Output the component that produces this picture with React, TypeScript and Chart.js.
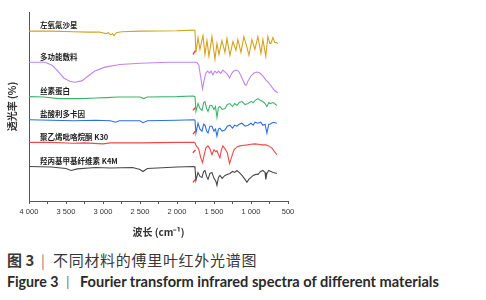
import React, { useEffect, useRef } from "react";
import { Chart, registerables } from "chart.js";

Chart.register(...registerables);

// ---------- data (offset transmittance, arbitrary units) ----------
const SERIES_NAMES = [
  "左氧氟沙星",
  "多功能敷料",
  "丝素蛋白",
  "盐酸利多卡因",
  "聚乙烯吡咯烷酮 K30",
  "羟丙基甲基纤维素 K4M",
];
const SERIES_COLORS = ["#D6A21E", "#C583EE", "#3DB46C", "#2B6FE6", "#F24848", "#474747"];

const X_MIN = 500;
const X_MAX = 4000;
const X_STEP = 250;
const LABEL_WN = 3850;

const LEVO_WN = [4000, 3700, 3400, 3200, 3050, 2960, 2930, 2900, 2870, 2850, 2820, 2750, 2500, 2000, 1770, 1757, 1744, 1716, 1690, 1649, 1622, 1595, 1568, 1528, 1487, 1460, 1433, 1393, 1352, 1325, 1285, 1244, 1204, 1177, 1136, 1096, 1055, 1028, 988, 947, 907, 880, 866, 839, 800, 772, 745, 731, 704, 680, 664, 636];
const LEVO_T = [86.3, 86.3, 86.0, 85.8, 85.8, 85.0, 85.5, 84.5, 85.0, 84.0, 85.5, 86.0, 86.3, 86.5, 86.8, 86.5, 75.5, 83.0, 77.0, 84.0, 74.5, 81.5, 73.5, 83.5, 72.0, 80.0, 74.5, 81.5, 75.5, 82.5, 74.0, 81.0, 76.5, 82.0, 75.5, 83.5, 78.0, 74.0, 82.0, 77.0, 83.5, 78.0, 75.0, 82.0, 73.5, 83.5, 80.0, 80.0, 83.0, 80.5, 80.5, 80.0];

const DRESS_WN = [4000, 3780, 3690, 3610, 3530, 3450, 3380, 3285, 3200, 3110, 2975, 2770, 2500, 2095, 1760, 1730, 1705, 1680, 1655, 1635, 1610, 1585, 1560, 1540, 1515, 1490, 1460, 1440, 1410, 1380, 1350, 1320, 1290, 1265, 1235, 1200, 1170, 1140, 1110, 1080, 1060, 1040, 1000, 960, 920, 880, 840, 800, 760, 720, 680, 640];
const DRESS_T = [70.5, 70.5, 69.0, 66.0, 62.5, 60.8, 60.3, 61.0, 63.5, 66.0, 68.0, 69.3, 70.0, 70.5, 70.5, 70.3, 69.0, 63.0, 57.0, 61.0, 65.0, 66.0, 65.0, 66.0, 64.0, 66.0, 65.0, 66.0, 64.8, 66.5, 65.5, 64.5, 62.5, 64.5, 66.0, 66.5, 66.0, 64.0, 61.5, 59.0, 59.0, 61.0, 63.5, 65.0, 65.5, 65.0, 63.5, 61.5, 60.0, 58.0, 56.0, 55.0];

const SILK_WN = [4000, 3800, 3600, 3300, 3100, 2950, 2800, 2500, 2450, 2400, 2000, 1780, 1757, 1744, 1716, 1690, 1662, 1640, 1622, 1600, 1581, 1555, 1528, 1500, 1480, 1460, 1440, 1420, 1390, 1352, 1320, 1285, 1250, 1220, 1190, 1160, 1122, 1080, 1041, 1000, 970, 947, 906, 870, 839, 810, 785, 760, 744, 700, 650];
const SILK_T = [53.0, 52.8, 52.0, 52.0, 52.3, 52.5, 52.8, 52.8, 52.0, 52.8, 53.0, 53.3, 53.0, 45.5, 49.5, 47.0, 46.0, 50.0, 50.5, 47.0, 45.5, 48.5, 48.5, 46.5, 48.0, 42.5, 47.5, 48.0, 46.5, 47.0, 49.0, 49.5, 48.0, 49.5, 48.5, 50.0, 50.5, 49.0, 49.5, 50.5, 50.0, 51.0, 52.0, 51.0, 50.5, 49.5, 48.0, 50.0, 49.5, 50.0, 48.5];

const LIDO_WN = [4000, 3700, 3400, 3100, 2900, 2830, 2780, 2500, 2460, 2400, 2000, 1770, 1757, 1744, 1716, 1690, 1662, 1640, 1622, 1600, 1581, 1555, 1528, 1500, 1480, 1460, 1440, 1420, 1390, 1352, 1320, 1285, 1250, 1220, 1190, 1160, 1122, 1080, 1041, 1000, 970, 947, 906, 870, 839, 810, 785, 760, 744, 700, 650];
const LIDO_T = [41.3, 41.0, 40.8, 41.0, 40.8, 40.0, 40.8, 40.8, 39.8, 40.8, 41.0, 41.3, 41.0, 34.5, 39.5, 36.5, 35.5, 39.0, 38.5, 35.5, 34.5, 38.0, 38.0, 35.5, 36.5, 33.0, 36.5, 37.0, 35.5, 36.0, 38.0, 38.5, 37.0, 38.5, 38.0, 39.0, 39.5, 38.0, 38.5, 39.5, 38.5, 40.0, 39.5, 40.0, 38.5, 39.0, 34.5, 39.0, 39.0, 40.0, 39.5];

const PVP_WN = [4000, 3700, 3400, 3250, 3000, 2900, 2500, 2000, 1770, 1757, 1740, 1716, 1700, 1680, 1655, 1635, 1610, 1581, 1555, 1528, 1500, 1475, 1460, 1440, 1420, 1400, 1380, 1350, 1320, 1290, 1265, 1230, 1190, 1150, 1100, 1050, 1000, 950, 900, 850, 800, 760, 720, 690, 650];
const PVP_T = [29.8, 29.8, 29.3, 29.5, 29.0, 29.5, 29.5, 29.8, 29.8, 29.5, 28.0, 27.0, 25.5, 22.0, 19.5, 23.0, 27.0, 28.0, 26.5, 23.5, 26.0, 25.0, 25.5, 23.5, 22.0, 26.0, 28.0, 26.5, 24.5, 19.0, 22.0, 26.0, 27.5, 28.0, 28.3, 28.5, 28.8, 29.0, 28.8, 28.5, 28.5, 28.0, 27.0, 25.5, 23.5];

const HPMC_WN = [4000, 3700, 3500, 3430, 3350, 3100, 2900, 2600, 2500, 2460, 2400, 2000, 1770, 1757, 1744, 1716, 1690, 1662, 1640, 1622, 1600, 1581, 1555, 1528, 1500, 1475, 1460, 1440, 1420, 1390, 1352, 1320, 1285, 1250, 1220, 1190, 1160, 1122, 1080, 1055, 1030, 1000, 970, 935, 906, 870, 839, 810, 800, 785, 760, 730, 700, 650];
const HPMC_T = [17.5, 17.3, 16.5, 15.5, 16.3, 17.0, 16.8, 17.0, 16.0, 15.0, 16.5, 17.3, 17.5, 17.0, 10.5, 14.5, 12.5, 12.0, 15.0, 15.5, 12.5, 11.0, 14.0, 14.5, 11.5, 10.0, 8.0, 12.0, 13.0, 11.5, 13.0, 13.5, 14.0, 15.0, 14.5, 15.5, 14.5, 13.0, 11.0, 9.5, 11.0, 12.0, 13.0, 13.5, 13.5, 15.0, 15.5, 14.5, 11.0, 14.0, 15.5, 15.0, 14.5, 14.0];

// small red strokes visible at the start of the fingerprint region
const MARK_WN = [1785, 1750];
const MARK_T = [
  [74.5, 76.5],
  [46.0, 47.5],
  [34.0, 35.5],
  [24.5, 26.0],
  [9.5, 11.0],
];
const MARK_COLOR = "#FF2A2A";

const SPECTRA_WN = [LEVO_WN, DRESS_WN, SILK_WN, LIDO_WN, PVP_WN, HPMC_WN];
const SPECTRA_T = [LEVO_T, DRESS_T, SILK_T, LIDO_T, PVP_T, HPMC_T];

const fmtTick = (v: number) =>
  v >= 1000 ? `${Math.floor(v / 1000)} ${String(v % 1000).padStart(3, "0")}` : String(v);

const seriesLabelPlugin = {
  id: "seriesLabels",
  afterDatasetsDraw(chart: any) {
    const { ctx, scales } = chart;
    const x = scales.x;
    const y = scales.y;
    ctx.save();
    ctx.font = 'bold 7.5px "Noto Sans CJK SC"';
    ctx.fillStyle = "#222";
    ctx.textBaseline = "middle";
    ctx.textAlign = "left";
    SERIES_NAMES.forEach((name, i) => {
      const px = x.getPixelForValue(LABEL_WN);
      const py = y.getPixelForValue(SPECTRA_T[i][0]) - 5.5;
      ctx.fillText(name, px, py);
    });
    ctx.restore();
  },
};

function SpectraChart() {
  const ref = useRef<HTMLCanvasElement | null>(null);
  useEffect(() => {
    if (!ref.current) return;
    const datasets: any[] = SERIES_NAMES.map((name, i) => ({
      label: name,
      data: SPECTRA_WN[i].map((w, j) => ({ x: w, y: SPECTRA_T[i][j] })),
      borderColor: SERIES_COLORS[i],
      borderWidth: 1.1,
      pointRadius: 0,
      fill: false,
      tension: 0,
    }));
    MARK_T.forEach((vals, k) => {
      datasets.push({
        label: "mark" + k,
        data: MARK_WN.map((w, j) => ({ x: w, y: vals[j] })),
        borderColor: MARK_COLOR,
        borderWidth: 1.2,
        pointRadius: 0,
        fill: false,
      });
    });
    const chart = new Chart(ref.current, {
      type: "line",
      data: { datasets },
      plugins: [seriesLabelPlugin],
      options: {
        animation: false,
        responsive: false,
        maintainAspectRatio: false,
        layout: { padding: { left: 6, top: 12, right: 198, bottom: 2 } },
        plugins: { legend: { display: false }, tooltip: { enabled: false }, title: { display: false } },
        scales: {
          x: {
            type: "linear",
            reverse: true,
            min: X_MIN,
            max: X_MAX,
            grid: { display: true, drawOnChartArea: false, drawTicks: true, tickLength: 3, color: "#555" },
            border: { display: true, color: "#555", width: 1 },
            ticks: {
              stepSize: X_STEP,
              autoSkip: false,
              maxRotation: 0,
              minRotation: 0,
              padding: 3,
              color: "#333",
              font: { family: '"Liberation Sans", Arial', size: 7.5 },
              callback: (v: any) => (Number(v) % 500 === 0 ? fmtTick(Number(v)) : ""),
            },
            title: {
              display: true,
              text: "波长 (cm⁻¹)",
              color: "#333",
              font: { family: '"Noto Sans CJK SC"', size: 10, weight: "bold" },
              padding: { top: 7, bottom: 0 },
            },
          },
          y: {
            type: "linear",
            min: 0,
            max: 96,
            grid: { display: true, drawOnChartArea: false, drawTicks: false },
            border: { display: true, color: "#555", width: 1 },
            ticks: { display: false },
            title: {
              display: true,
              text: "透光率 (%)",
              color: "#333",
              font: { family: '"Noto Sans CJK SC"', size: 10, weight: "bold" },
              padding: { top: 0, bottom: 11 },
            },
          },
        },
      },
    });
    return () => chart.destroy();
  }, []);
  return (
    <canvas
      ref={ref}
      width={486}
      height={240}
      style={{ display: "block", width: "486px", height: "240px" }}
    />
  );
}

export default function App() {
  const cjk = '"Noto Sans CJK SC", sans-serif';
  const lat = "Lato, sans-serif";
  return (
    <div
      style={{
        position: "absolute",
        left: 0,
        top: 0,
        width: 486,
        height: 300,
        background: "#fff",
        overflow: "hidden",
      }}
    >
      <SpectraChart />
      <div style={{ position: "absolute", left: 7, top: 249, height: 22, lineHeight: "22px", fontFamily: cjk, fontSize: 15, color: "#383838", whiteSpace: "nowrap" }}>
        <span style={{ fontWeight: "bold" }}>图 3</span>
      </div>
      <div style={{ position: "absolute", left: 41, top: 249, height: 22, lineHeight: "22px", fontFamily: cjk, fontSize: 14, color: "#777", whiteSpace: "nowrap" }}>
        |
      </div>
      <div style={{ position: "absolute", left: 53, top: 249, height: 22, lineHeight: "22px", fontFamily: cjk, fontSize: 15, letterSpacing: "0.7px", color: "#383838", whiteSpace: "nowrap" }}>
        不同材料的傅里叶红外光谱图
      </div>
      <div style={{ position: "absolute", left: 7, top: 272, height: 20, lineHeight: "20px", fontFamily: lat, fontWeight: "bold", fontSize: 14.2, color: "#2a2a2a", whiteSpace: "nowrap" }}>
        Figure 3
      </div>
      <div style={{ position: "absolute", left: 66, top: 272, height: 20, lineHeight: "20px", fontFamily: lat, fontSize: 14, color: "#777", whiteSpace: "nowrap" }}>
        |
      </div>
      <div style={{ position: "absolute", left: 80, top: 272, height: 20, lineHeight: "20px", fontFamily: lat, fontWeight: "bold", fontSize: 14.6, color: "#2a2a2a", whiteSpace: "nowrap" }}>
        Fourier transform infrared spectra of different materials
      </div>
    </div>
  );
}
